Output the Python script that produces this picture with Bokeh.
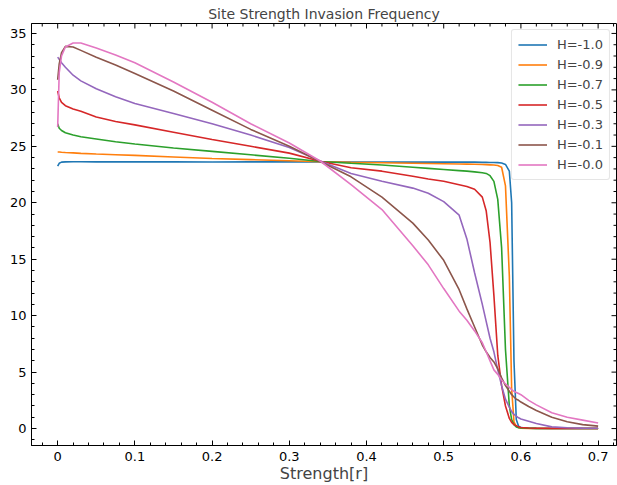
import math
import numpy as np
from bokeh.plotting import figure
from bokeh.models import SingleIntervalTicker, Range1d, Legend, LegendItem
from bokeh.embed import file_html
from bokeh.resources import INLINE

strength = [0.0, 0.002, 0.005, 0.01, 0.02, 0.03, 0.05, 0.075, 0.1, 0.15, 0.2, 0.25, 0.3, 0.34,
            0.38, 0.42, 0.46, 0.48, 0.5, 0.52, 0.53, 0.54, 0.55, 0.555, 0.56, 0.565, 0.57, 0.575,
            0.58, 0.585, 0.588, 0.591, 0.594, 0.597, 0.6, 0.61, 0.62, 0.64, 0.66, 0.68, 0.7]

h_m10 = [23.25, 23.5, 23.6, 23.62, 23.63, 23.63, 23.62, 23.63, 23.62, 23.62, 23.61, 23.62, 23.62, 23.62,
         23.6, 23.6, 23.6, 23.6, 23.6, 23.6, 23.6, 23.6, 23.58, 23.58, 23.57, 23.57, 23.56, 23.52,
         23.4, 22.8, 20.0, 6.0, 0.8, 0.2, 0.08, 0.03, 0.02, 0.01, 0.01, 0.01, 0.01]
h_m09 = [24.5, 24.5, 24.47, 24.45, 24.42, 24.38, 24.32, 24.26, 24.2, 24.06, 23.92, 23.82, 23.72, 23.64,
         23.58, 23.54, 23.5, 23.48, 23.46, 23.43, 23.42, 23.41, 23.39, 23.38, 23.36, 23.34, 23.3, 23.15,
         21.5, 13.5, 3.5, 0.6, 0.2, 0.08, 0.04, 0.02, 0.01, 0.01, 0.01, 0.01, 0.01]
h_m07 = [27.0, 26.6, 26.4, 26.2, 26.0, 25.85, 25.65, 25.4, 25.2, 24.85, 24.55, 24.25, 23.95, 23.66,
         23.5, 23.35, 23.15, 23.05, 22.95, 22.85, 22.8, 22.74, 22.66, 22.6, 22.4, 21.9, 20.3, 16.0,
         7.0, 2.0, 0.8, 0.35, 0.15, 0.08, 0.05, 0.03, 0.02, 0.01, 0.01, 0.01, 0.01]
h_m05 = [29.9, 29.3, 28.9, 28.6, 28.3, 28.1, 27.6, 27.2, 26.9, 26.25, 25.6, 25.0, 24.4, 23.68,
         23.1, 22.8, 22.35, 22.1, 21.9, 21.6, 21.45, 21.2, 20.5, 19.3, 16.5, 11.8, 6.5, 3.8,
         2.0, 0.9, 0.55, 0.35, 0.25, 0.15, 0.1, 0.05, 0.03, 0.02, 0.01, 0.01, 0.01]
h_m03 = [32.9, 32.7, 32.4, 32.0, 31.3, 30.8, 30.1, 29.4, 28.8, 27.9, 27.0, 26.0, 24.9, 23.7,
         22.6, 21.9, 21.3, 20.85, 20.1, 18.9, 16.8, 13.8, 11.0, 9.5, 8.0, 6.8, 5.2, 3.8,
         2.6, 1.9, 1.5, 1.25, 1.1, 0.95, 0.85, 0.65, 0.45, 0.15, 0.07, 0.04, 0.03]
h_m01 = [30.9, 32.3, 33.3, 33.85, 33.8, 33.5, 32.9, 32.2, 31.45, 29.9, 28.2, 26.5, 25.0, 23.65,
         22.3, 20.5, 18.2, 16.7, 14.9, 12.3, 10.6, 9.0, 7.4, 6.8, 6.3, 5.9, 5.3, 4.5,
         3.8, 3.3, 3.0, 2.8, 2.6, 2.5, 2.35, 1.95, 1.6, 1.0, 0.6, 0.35, 0.22]
h_m00 = [26.7, 31.5, 33.0, 33.8, 34.15, 34.15, 33.7, 33.1, 32.4, 30.7, 28.9, 27.0, 25.3, 23.7,
         21.6, 19.4, 16.2, 14.5, 12.4, 10.4, 9.6, 8.65, 7.6, 6.8, 6.0, 5.2, 4.8, 4.3,
         3.95, 3.65, 3.45, 3.3, 3.2, 3.1, 3.0, 2.5, 2.1, 1.4, 1.0, 0.75, 0.5]

series_labels = ["H=-1.0", "H=-0.9", "H=-0.7", "H=-0.5", "H=-0.3", "H=-0.1", "H=-0.0"]
series_values = [h_m10, h_m09, h_m07, h_m05, h_m03, h_m01, h_m00]
colors = ["#1f77b4", "#ff7f0e", "#2ca02c", "#d62728", "#9467bd", "#8c564b", "#e377c2"]

FONT = "DejaVu Sans"
X0, X1 = -0.0339, 0.7238
Y0, Y1 = -1.5, 35.88

p = figure(width=617, height=485, output_backend="svg", toolbar_location=None,
           x_range=Range1d(X0, X1), y_range=Range1d(Y0, Y1),
           min_border_left=31, min_border_right=1, min_border_top=23, min_border_bottom=0)

p.title.text = "Site Strength Invasion Frequency"
p.title.text_font = FONT
p.title.text_font_size = "14px"
p.title.text_font_style = "normal"
p.title.align = "center"
p.title.standoff = 3
p.title.offset = 0

p.xgrid.grid_line_color = None
p.ygrid.grid_line_color = None
p.outline_line_color = "black"
p.outline_line_width = 1
p.background_fill_color = "white"
p.border_fill_color = "white"

p.xaxis.ticker = SingleIntervalTicker(interval=0.1, num_minor_ticks=5)
p.yaxis.ticker = SingleIntervalTicker(interval=5, num_minor_ticks=5)

for ax in (p.xaxis[0], p.yaxis[0]):
    ax.major_tick_in = 5
    ax.major_tick_out = 0
    ax.minor_tick_in = 3
    ax.minor_tick_out = 0
    ax.axis_line_color = "black"
    ax.major_tick_line_color = "black"
    ax.minor_tick_line_color = "black"
    ax.major_label_text_font = FONT
    ax.major_label_text_color = "black"
    ax.major_label_text_font_size = "13px"
    ax.major_label_standoff = 5

p.xaxis[0].major_label_standoff = 6
p.xaxis[0].axis_label = "Strength[r]"
p.xaxis[0].axis_label_text_font = FONT
p.xaxis[0].axis_label_text_font_size = "16px"
p.xaxis[0].axis_label_text_font_style = "normal"
p.xaxis[0].axis_label_standoff = 0

# inward tick marks on the top and right edges (matplotlib "in" style on all sides)
x_major = [round(v, 3) for v in np.arange(0.0, 0.75, 0.1)]
x_minor = [round(v, 3) for v in np.arange(-0.02, 0.73, 0.02) if abs(v / 0.1 - round(v / 0.1)) > 1e-6]
y_major = [float(v) for v in range(0, 36, 5)]
y_minor = [float(v) for v in range(-1, 36) if v % 5 != 0]

p.scatter(x_major, [Y1] * len(x_major), marker="dash", size=10, angle=math.pi / 2,
          line_color="black", line_width=1)
p.scatter(x_minor, [Y1] * len(x_minor), marker="dash", size=6, angle=math.pi / 2,
          line_color="black", line_width=1)
p.scatter([X1] * len(y_major), y_major, marker="dash", size=10, angle=0,
          line_color="black", line_width=1)
p.scatter([X1] * len(y_minor), y_minor, marker="dash", size=6, angle=0,
          line_color="black", line_width=1)

items = []
for lab, vals, col in zip(series_labels, series_values, colors):
    r = p.line(strength, vals, line_color=col, line_width=1.6)
    items.append(LegendItem(label=lab, renderers=[r]))

legend = Legend(items=items, location="top_right")
legend.margin = 6
legend.padding = 6
legend.spacing = 3
legend.glyph_width = 29
legend.glyph_height = 17
legend.label_height = 17
legend.label_standoff = 10
legend.label_text_font = FONT
legend.label_text_font_size = "13px"
legend.border_line_color = "#cccccc"
legend.border_line_width = 1
legend.background_fill_alpha = 0.8
legend.border_radius = 3
p.add_layout(legend, "center")

open("out.html", "w").write(file_html(p, INLINE))
